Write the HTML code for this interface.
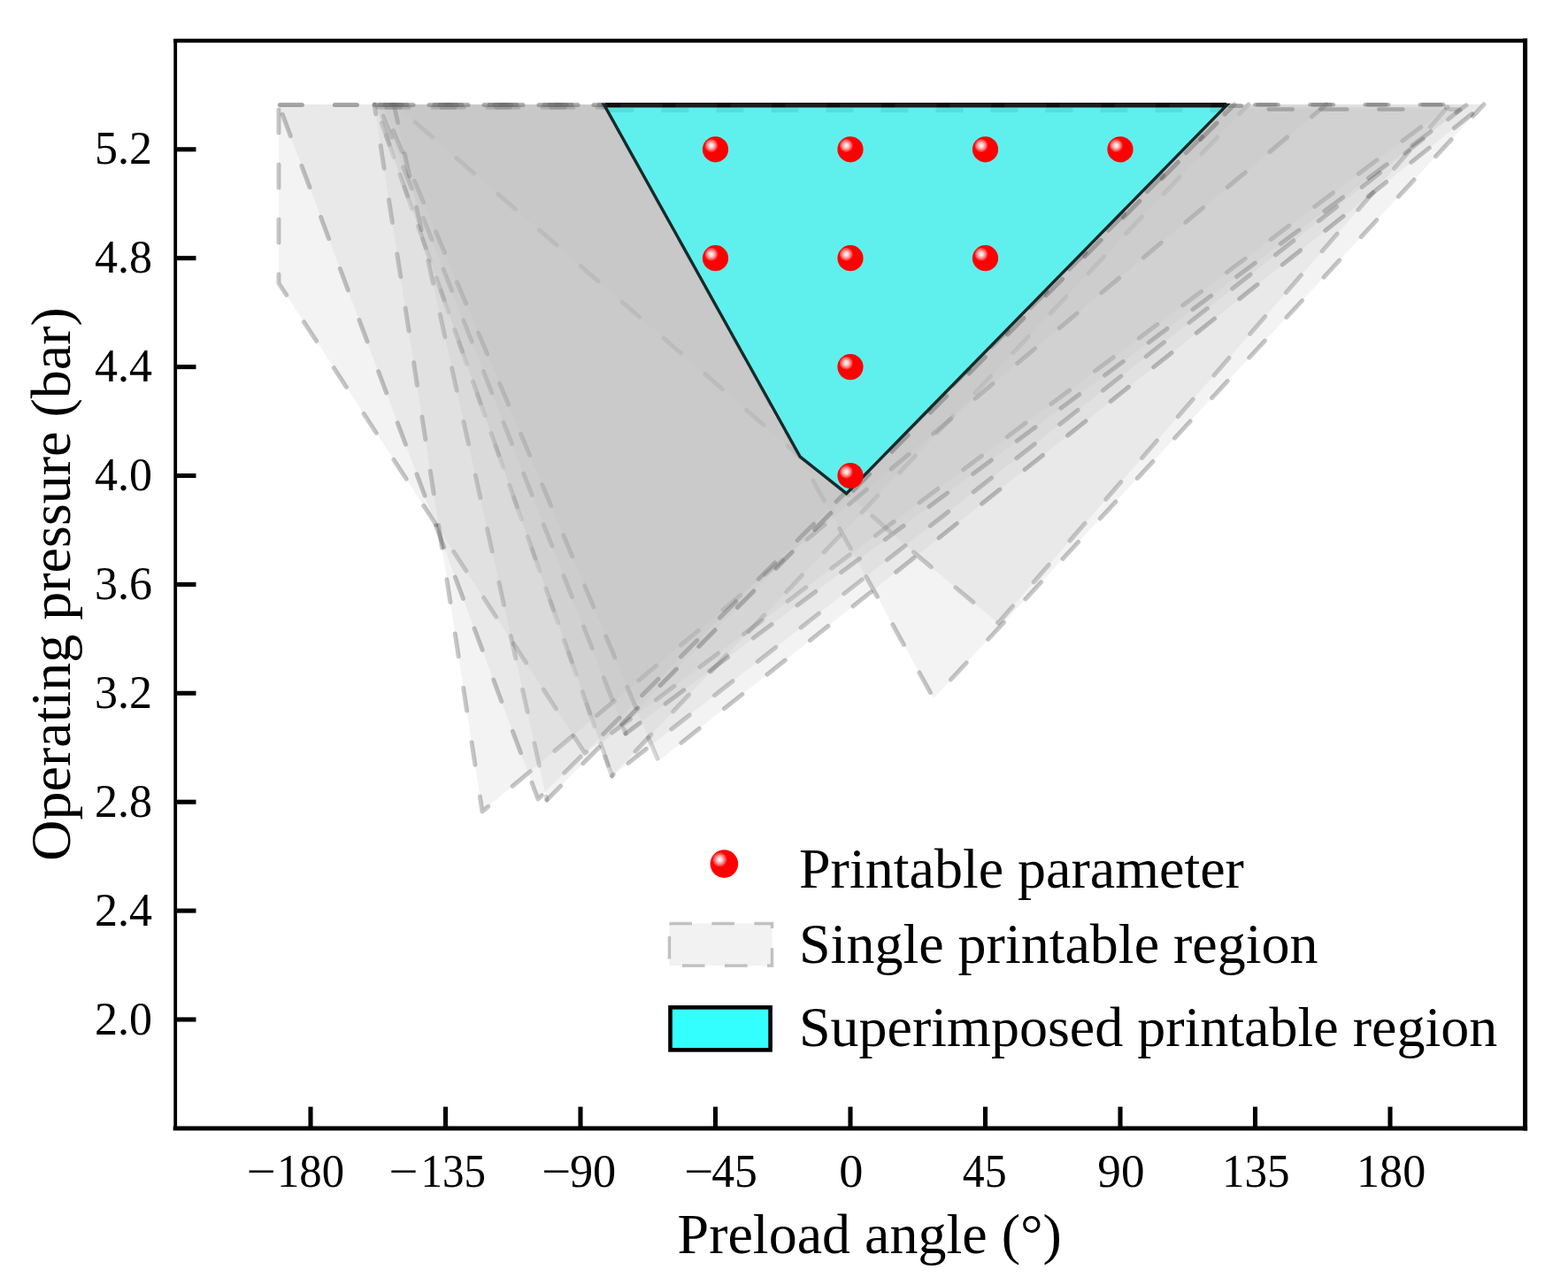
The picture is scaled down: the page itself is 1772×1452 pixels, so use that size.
<!DOCTYPE html>
<html><head><meta charset="utf-8"><title>Printable region</title>
<style>
html,body{margin:0;padding:0;background:#fff;}
svg{display:block;}
text{font-family:'Liberation Serif', 'Times New Roman', serif;fill:#000;}
</style></head><body>
<svg width="1772" height="1452" viewBox="0 0 1772 1452">
<defs>
<radialGradient id="ball" cx="0.34" cy="0.35" r="0.27" fx="0.34" fy="0.35">
<stop offset="0" stop-color="#ffffff"/>
<stop offset="0.35" stop-color="#ffc8c8"/>
<stop offset="0.75" stop-color="#ff5a5a"/>
<stop offset="1" stop-color="#ff0000"/>
</radialGradient>
</defs>
<rect x="0" y="0" width="1772" height="1452" fill="#fff"/>

<g stroke="#000000" stroke-opacity="0.22" stroke-width="5" stroke-dasharray="26 36" stroke-linejoin="round" stroke-linecap="round">
<polygon points="424.0,118.0 691.6,876.8 1411.0,118.0" fill="#c0c0c0" fill-opacity="0.19" stroke="none"/>
<polyline points="424.0,118.0 691.6,876.8" fill="none" stroke-dashoffset="25" stroke-opacity="0.15"/>
<polyline points="691.6,876.8 1411.0,118.0" fill="none" stroke-dashoffset="829.6"/>
<polygon points="446.0,118.0 904.0,516.0 957.0,558.0 1036.5,627.5 1128.0,704.0 1636.0,121.0" fill="#c0c0c0" fill-opacity="0.19" stroke="none"/>
<polyline points="446.0,118.0 904.0,516.0 957.0,558.0 1036.5,627.5 1128.0,704.0 1636.0,121.0" fill="none" stroke-dashoffset="31.4"/>
<polygon points="683.0,118.0 1055.0,789.0 1677.0,118.0" fill="#c0c0c0" fill-opacity="0.19" stroke="none"/>
<polyline points="683.0,118.0 1055.0,789.0 1677.0,118.0" fill="none" stroke-dashoffset="10"/>
<polygon points="315.0,118.0 315.0,320.0 661.0,851.0 1636.0,121.0" fill="#c0c0c0" fill-opacity="0.19" stroke="none"/>
<polyline points="315.0,118.0 315.0,320.0 661.0,851.0 1636.0,121.0" fill="none" stroke-dashoffset="56"/>
<polygon points="423.0,118.0 545.0,917.0 1499.0,118.0" fill="#c0c0c0" fill-opacity="0.19" stroke="none"/>
<polyline points="423.0,118.0 545.0,917.0 1499.0,118.0" fill="none" stroke-dashoffset="15"/>
<polygon points="424.0,118.0 691.6,876.8 1658.0,118.0" fill="#c0c0c0" fill-opacity="0.19" stroke="none"/>
<polyline points="424.0,118.0 691.6,876.8" fill="none" stroke-dashoffset="40" stroke-opacity="0.15"/>
<polyline points="691.6,876.8 1658.0,118.0" fill="none" stroke-dashoffset="844.6"/>
<polygon points="428.0,118.0 707.0,829.0 1650.0,124.0" fill="#c0c0c0" fill-opacity="0.19" stroke="none"/>
<polyline points="428.0,118.0 707.0,829.0" fill="none" stroke-dashoffset="48" stroke-opacity="0.15"/>
<polyline points="707.0,829.0 1650.0,124.0" fill="none" stroke-dashoffset="811.8"/>
<polygon points="432.0,118.0 744.0,860.0 1677.0,118.0" fill="#c0c0c0" fill-opacity="0.19" stroke="none"/>
<polyline points="432.0,118.0 744.0,860.0" fill="none" stroke-dashoffset="30" stroke-opacity="0.15"/>
<polyline points="744.0,860.0 1677.0,118.0" fill="none" stroke-dashoffset="834.9"/>
<polygon points="315.0,118.0 608.0,903.0 1395.0,118.0" fill="#c0c0c0" fill-opacity="0.19" stroke="none"/>
<polyline points="315.0,118.0 608.0,903.0 1395.0,118.0" fill="none" stroke-dashoffset="50"/>
<polygon points="445.0,118.0 618.0,904.0 1396.0,118.0" fill="#c0c0c0" fill-opacity="0.19" stroke="none"/>
<polyline points="445.0,118.0 618.0,904.0" fill="none" stroke-dashoffset="5" stroke-opacity="0.15"/>
<polyline points="618.0,904.0 1396.0,118.0" fill="none" stroke-dashoffset="809.8"/>
</g>
<line x1="316.3" y1="118.6" x2="341.4" y2="118.6" stroke="#707070" stroke-opacity="0.6" stroke-width="5" stroke-linecap="round"/>
<line x1="378.3" y1="118.6" x2="403.4" y2="118.6" stroke="#707070" stroke-opacity="0.6" stroke-width="5" stroke-linecap="round"/>
<line x1="423.0" y1="118.6" x2="448.0" y2="118.6" stroke="#6a6a6a" stroke-opacity="0.5" stroke-width="5" stroke-linecap="round"/>
<line x1="485.0" y1="118.6" x2="510.0" y2="118.6" stroke="#6a6a6a" stroke-opacity="0.5" stroke-width="5" stroke-linecap="round"/>
<line x1="547.0" y1="118.6" x2="572.0" y2="118.6" stroke="#6a6a6a" stroke-opacity="0.5" stroke-width="5" stroke-linecap="round"/>
<line x1="609.0" y1="118.6" x2="634.0" y2="118.6" stroke="#6a6a6a" stroke-opacity="0.5" stroke-width="5" stroke-linecap="round"/>
<line x1="671.0" y1="118.6" x2="681.5" y2="118.6" stroke="#6a6a6a" stroke-opacity="0.5" stroke-width="5" stroke-linecap="round"/>
<line x1="429.0" y1="118.6" x2="454.0" y2="118.6" stroke="#6a6a6a" stroke-opacity="0.5" stroke-width="5" stroke-linecap="round"/>
<line x1="491.0" y1="118.6" x2="516.0" y2="118.6" stroke="#6a6a6a" stroke-opacity="0.5" stroke-width="5" stroke-linecap="round"/>
<line x1="553.0" y1="118.6" x2="578.0" y2="118.6" stroke="#6a6a6a" stroke-opacity="0.5" stroke-width="5" stroke-linecap="round"/>
<line x1="615.0" y1="118.6" x2="640.0" y2="118.6" stroke="#6a6a6a" stroke-opacity="0.5" stroke-width="5" stroke-linecap="round"/>
<line x1="677.0" y1="118.6" x2="681.5" y2="118.6" stroke="#6a6a6a" stroke-opacity="0.5" stroke-width="5" stroke-linecap="round"/>
<line x1="435.0" y1="118.6" x2="460.0" y2="118.6" stroke="#6a6a6a" stroke-opacity="0.5" stroke-width="5" stroke-linecap="round"/>
<line x1="497.0" y1="118.6" x2="522.0" y2="118.6" stroke="#6a6a6a" stroke-opacity="0.5" stroke-width="5" stroke-linecap="round"/>
<line x1="559.0" y1="118.6" x2="584.0" y2="118.6" stroke="#6a6a6a" stroke-opacity="0.5" stroke-width="5" stroke-linecap="round"/>
<line x1="621.0" y1="118.6" x2="646.0" y2="118.6" stroke="#6a6a6a" stroke-opacity="0.5" stroke-width="5" stroke-linecap="round"/>
<line x1="683.0" y1="118.6" x2="681.5" y2="118.6" stroke="#6a6a6a" stroke-opacity="0.5" stroke-width="5" stroke-linecap="round"/>
<line x1="442.0" y1="118.6" x2="467.0" y2="118.6" stroke="#6a6a6a" stroke-opacity="0.5" stroke-width="5" stroke-linecap="round"/>
<line x1="504.0" y1="118.6" x2="529.0" y2="118.6" stroke="#6a6a6a" stroke-opacity="0.5" stroke-width="5" stroke-linecap="round"/>
<line x1="566.0" y1="118.6" x2="591.0" y2="118.6" stroke="#6a6a6a" stroke-opacity="0.5" stroke-width="5" stroke-linecap="round"/>
<line x1="628.0" y1="118.6" x2="653.0" y2="118.6" stroke="#6a6a6a" stroke-opacity="0.5" stroke-width="5" stroke-linecap="round"/>
<line x1="426.5" y1="121.8" x2="452.5" y2="121.8" stroke="#707070" stroke-opacity="0.3" stroke-width="4" stroke-linecap="round"/>
<line x1="488.5" y1="121.8" x2="514.5" y2="121.8" stroke="#707070" stroke-opacity="0.3" stroke-width="4" stroke-linecap="round"/>
<line x1="550.5" y1="121.8" x2="576.5" y2="121.8" stroke="#707070" stroke-opacity="0.3" stroke-width="4" stroke-linecap="round"/>
<line x1="612.5" y1="121.8" x2="638.5" y2="121.8" stroke="#707070" stroke-opacity="0.3" stroke-width="4" stroke-linecap="round"/>
<line x1="674.5" y1="121.8" x2="682.0" y2="121.8" stroke="#707070" stroke-opacity="0.3" stroke-width="4" stroke-linecap="round"/>
<line x1="436.5" y1="121.8" x2="462.5" y2="121.8" stroke="#707070" stroke-opacity="0.3" stroke-width="4" stroke-linecap="round"/>
<line x1="498.5" y1="121.8" x2="524.5" y2="121.8" stroke="#707070" stroke-opacity="0.3" stroke-width="4" stroke-linecap="round"/>
<line x1="560.5" y1="121.8" x2="586.5" y2="121.8" stroke="#707070" stroke-opacity="0.3" stroke-width="4" stroke-linecap="round"/>
<line x1="622.5" y1="121.8" x2="648.5" y2="121.8" stroke="#707070" stroke-opacity="0.3" stroke-width="4" stroke-linecap="round"/>
<line x1="684.5" y1="121.8" x2="682.0" y2="121.8" stroke="#707070" stroke-opacity="0.3" stroke-width="4" stroke-linecap="round"/>
<line x1="1418.3" y1="118.3" x2="1441.7" y2="118.3" stroke="#707070" stroke-opacity="0.5" stroke-width="4.6" stroke-linecap="round"/>
<line x1="1480.5" y1="118.3" x2="1503.9" y2="118.3" stroke="#707070" stroke-opacity="0.5" stroke-width="4.6" stroke-linecap="round"/>
<line x1="1542.7" y1="118.3" x2="1566.1" y2="118.3" stroke="#707070" stroke-opacity="0.5" stroke-width="4.6" stroke-linecap="round"/>
<line x1="1604.9" y1="118.3" x2="1628.3" y2="118.3" stroke="#707070" stroke-opacity="0.5" stroke-width="4.6" stroke-linecap="round"/>
<line x1="1421.3" y1="118.3" x2="1444.7" y2="118.3" stroke="#707070" stroke-opacity="0.5" stroke-width="4.6" stroke-linecap="round"/>
<line x1="1483.5" y1="118.3" x2="1506.9" y2="118.3" stroke="#707070" stroke-opacity="0.5" stroke-width="4.6" stroke-linecap="round"/>
<line x1="1545.7" y1="118.3" x2="1569.1" y2="118.3" stroke="#707070" stroke-opacity="0.5" stroke-width="4.6" stroke-linecap="round"/>
<line x1="1607.9" y1="118.3" x2="1631.3" y2="118.3" stroke="#707070" stroke-opacity="0.5" stroke-width="4.6" stroke-linecap="round"/>
<line x1="1389.5" y1="119.5" x2="1402.5" y2="119.5" stroke="#707070" stroke-opacity="0.5" stroke-width="5" stroke-linecap="round"/>
<line x1="1433.8" y1="123.5" x2="1460.7" y2="123.5" stroke="#707070" stroke-opacity="0.45" stroke-width="4.6" stroke-linecap="round"/>
<line x1="1492.3" y1="123.5" x2="1522.2" y2="123.5" stroke="#707070" stroke-opacity="0.45" stroke-width="4.6" stroke-linecap="round"/>
<line x1="1558.3" y1="123.5" x2="1585.4" y2="123.5" stroke="#707070" stroke-opacity="0.45" stroke-width="4.6" stroke-linecap="round"/>
<line x1="1638.3" y1="123.5" x2="1647.7" y2="123.5" stroke="#707070" stroke-opacity="0.3" stroke-width="4.6" stroke-linecap="round"/>
<polygon points="682.7,118.4 904.2,516.1 956.6,557.7 1386.7,118.4" fill="#5ff0ee" stroke="#142a2a" stroke-width="3.4" stroke-linejoin="miter"/>
<line x1="684" y1="118.8" x2="1386" y2="118.8" stroke="#1c1c1c" stroke-width="5.6"/>
<line x1="686.0" y1="124.6" x2="716.4" y2="124.6" stroke="#000" stroke-opacity="0.08" stroke-width="5"/>
<line x1="686.4" y1="118.6" x2="701.4" y2="118.6" stroke="#000" stroke-opacity="0.5" stroke-width="5"/>
<line x1="747.4" y1="124.6" x2="778.4" y2="124.6" stroke="#000" stroke-opacity="0.08" stroke-width="5"/>
<line x1="748.4" y1="118.6" x2="763.4" y2="118.6" stroke="#000" stroke-opacity="0.5" stroke-width="5"/>
<line x1="809.4" y1="124.6" x2="840.4" y2="124.6" stroke="#000" stroke-opacity="0.08" stroke-width="5"/>
<line x1="810.4" y1="118.6" x2="825.4" y2="118.6" stroke="#000" stroke-opacity="0.5" stroke-width="5"/>
<line x1="871.4" y1="124.6" x2="902.4" y2="124.6" stroke="#000" stroke-opacity="0.08" stroke-width="5"/>
<line x1="872.4" y1="118.6" x2="887.4" y2="118.6" stroke="#000" stroke-opacity="0.5" stroke-width="5"/>
<line x1="933.4" y1="124.6" x2="964.4" y2="124.6" stroke="#000" stroke-opacity="0.08" stroke-width="5"/>
<line x1="934.4" y1="118.6" x2="949.4" y2="118.6" stroke="#000" stroke-opacity="0.5" stroke-width="5"/>
<line x1="995.4" y1="124.6" x2="1026.4" y2="124.6" stroke="#000" stroke-opacity="0.08" stroke-width="5"/>
<line x1="996.4" y1="118.6" x2="1011.4" y2="118.6" stroke="#000" stroke-opacity="0.5" stroke-width="5"/>
<line x1="1057.4" y1="124.6" x2="1088.4" y2="124.6" stroke="#000" stroke-opacity="0.08" stroke-width="5"/>
<line x1="1058.4" y1="118.6" x2="1073.4" y2="118.6" stroke="#000" stroke-opacity="0.5" stroke-width="5"/>
<line x1="1119.4" y1="124.6" x2="1150.4" y2="124.6" stroke="#000" stroke-opacity="0.08" stroke-width="5"/>
<line x1="1120.4" y1="118.6" x2="1135.4" y2="118.6" stroke="#000" stroke-opacity="0.5" stroke-width="5"/>
<line x1="1181.4" y1="124.6" x2="1212.4" y2="124.6" stroke="#000" stroke-opacity="0.08" stroke-width="5"/>
<line x1="1182.4" y1="118.6" x2="1197.4" y2="118.6" stroke="#000" stroke-opacity="0.5" stroke-width="5"/>
<line x1="1243.4" y1="124.6" x2="1274.4" y2="124.6" stroke="#000" stroke-opacity="0.08" stroke-width="5"/>
<line x1="1244.4" y1="118.6" x2="1259.4" y2="118.6" stroke="#000" stroke-opacity="0.5" stroke-width="5"/>
<line x1="1305.4" y1="124.6" x2="1336.4" y2="124.6" stroke="#000" stroke-opacity="0.08" stroke-width="5"/>
<line x1="1306.4" y1="118.6" x2="1321.4" y2="118.6" stroke="#000" stroke-opacity="0.5" stroke-width="5"/>
<line x1="1367.4" y1="124.6" x2="1384.0" y2="124.6" stroke="#000" stroke-opacity="0.08" stroke-width="5"/>
<line x1="1368.4" y1="118.6" x2="1383.4" y2="118.6" stroke="#000" stroke-opacity="0.5" stroke-width="5"/>
<circle cx="808.5" cy="168.8" r="14.6" fill="url(#ball)"/>
<circle cx="961.0" cy="168.8" r="14.6" fill="url(#ball)"/>
<circle cx="1113.5" cy="168.8" r="14.6" fill="url(#ball)"/>
<circle cx="1266.0" cy="168.8" r="14.6" fill="url(#ball)"/>
<circle cx="808.5" cy="291.7" r="14.6" fill="url(#ball)"/>
<circle cx="961.0" cy="291.7" r="14.6" fill="url(#ball)"/>
<circle cx="1113.5" cy="291.7" r="14.6" fill="url(#ball)"/>
<circle cx="961.0" cy="414.6" r="14.6" fill="url(#ball)"/>
<circle cx="961.0" cy="537.5" r="14.6" fill="url(#ball)"/>
<g stroke="#000" fill="none" stroke-linecap="square">
<line x1="198.2" y1="46" x2="1723.6" y2="46" stroke-width="4.4"/>
<line x1="198.2" y1="1275" x2="1723.6" y2="1275" stroke-width="5"/>
<line x1="198.2" y1="46" x2="198.2" y2="1275" stroke-width="3.8"/>
<line x1="1723.6" y1="46" x2="1723.6" y2="1275" stroke-width="5"/>
</g>
<g stroke="#000" stroke-width="5.1">
<line x1="351.0" y1="1250.6" x2="351.0" y2="1274"/>
<line x1="503.5" y1="1250.6" x2="503.5" y2="1274"/>
<line x1="656.0" y1="1250.6" x2="656.0" y2="1274"/>
<line x1="808.5" y1="1250.6" x2="808.5" y2="1274"/>
<line x1="961.0" y1="1250.6" x2="961.0" y2="1274"/>
<line x1="1113.5" y1="1250.6" x2="1113.5" y2="1274"/>
<line x1="1266.0" y1="1250.6" x2="1266.0" y2="1274"/>
<line x1="1418.5" y1="1250.6" x2="1418.5" y2="1274"/>
<line x1="1571.0" y1="1250.6" x2="1571.0" y2="1274"/>
<line x1="199" y1="168.8" x2="221.5" y2="168.8"/>
<line x1="199" y1="291.7" x2="221.5" y2="291.7"/>
<line x1="199" y1="414.6" x2="221.5" y2="414.6"/>
<line x1="199" y1="537.5" x2="221.5" y2="537.5"/>
<line x1="199" y1="660.4" x2="221.5" y2="660.4"/>
<line x1="199" y1="783.3" x2="221.5" y2="783.3"/>
<line x1="199" y1="906.2" x2="221.5" y2="906.2"/>
<line x1="199" y1="1029.1" x2="221.5" y2="1029.1"/>
<line x1="199" y1="1152.0" x2="221.5" y2="1152.0"/>
</g>
<g font-size="52">
<text transform="translate(317.4,1341) scale(0.977,1)" x="-4.6">180</text>
<text transform="translate(278.5,1341) scale(1.13,1)">−</text>
<text transform="translate(479.9,1341) scale(0.942,1)" x="-4.6">135</text>
<text transform="translate(439.3,1341) scale(1.13,1)">−</text>
<text transform="translate(645.4,1341) scale(1.006,1)" x="-1.5">90</text>
<text transform="translate(611.9,1341) scale(1.13,1)">−</text>
<text transform="translate(805.0,1341) scale(0.994,1)" x="-0.8">45</text>
<text transform="translate(773.0,1341) scale(1.13,1)">−</text>
<text transform="translate(950.0,1341) scale(1.045,1)" x="-1.7">0</text>
<text transform="translate(1088.5,1341) scale(0.959,1)" x="-0.8">45</text>
<text transform="translate(1241.9,1341) scale(1.021,1)" x="-1.5">90</text>
<text transform="translate(1385.4,1341) scale(0.983,1)" x="-4.6">135</text>
<text transform="translate(1537.7,1341) scale(1.001,1)" x="-4.6">180</text>
<text x="172" y="185.3" text-anchor="end">5.2</text>
<text x="172" y="308.2" text-anchor="end">4.8</text>
<text x="172" y="431.1" text-anchor="end">4.4</text>
<text x="172" y="554.0" text-anchor="end">4.0</text>
<text x="172" y="676.9" text-anchor="end">3.6</text>
<text x="172" y="799.8" text-anchor="end">3.2</text>
<text x="172" y="922.7" text-anchor="end">2.8</text>
<text x="172" y="1045.6" text-anchor="end">2.4</text>
<text x="172" y="1168.5" text-anchor="end">2.0</text>
</g>
<text x="982.7" y="1415.5" font-size="64" text-anchor="middle">Preload angle (°)</text>
<text transform="translate(79,659.9) rotate(-90)" font-size="64" text-anchor="middle">Operating pressure (bar)</text>
<circle cx="818.4" cy="976.1" r="15.8" fill="url(#ball)"/>
<text x="903" y="1002.6" font-size="64">Printable parameter</text>
<rect x="756.4" y="1043.5" width="116.2" height="47.8" fill="#f2f2f2" stroke="#000" stroke-opacity="0.22" stroke-width="3.5" stroke-dasharray="25.6 22.4"/>
<text x="903" y="1088.1" font-size="64">Single printable region</text>
<rect x="757.5" y="1138.3" width="113.1" height="48.1" fill="#33ffff" stroke="#000" stroke-width="4.6"/>
<text x="903" y="1181.6" font-size="64">Superimposed printable region</text>
</svg></body></html>
